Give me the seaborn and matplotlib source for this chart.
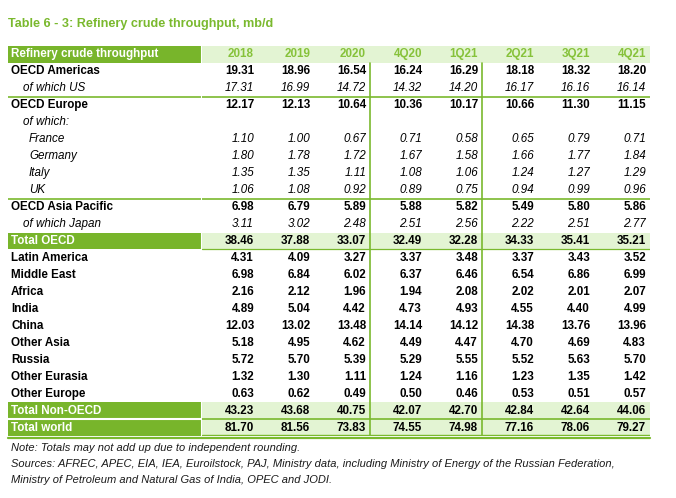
import numpy as np
import pandas as pd
import seaborn as sns
import matplotlib.pyplot as plt
from matplotlib.colors import ListedColormap

# Table contents
title = "Table 6 - 3: Refinery crude throughput, mb/d"
header_label = "Refinery crude throughput"
periods = ["2018", "2019", "2020", "4Q20", "1Q21", "2Q21", "3Q21", "4Q21"]

row_labels = ["OECD Americas", "of which US", "OECD Europe", "of which:", "France", "Germany",
              "Italy", "UK", "OECD Asia Pacific", "of which Japan", "Total OECD",
              "Latin America", "Middle East", "Africa", "India", "China", "Other Asia",
              "Russia", "Other Eurasia", "Other Europe", "Total Non-OECD", "Total world"]
row_kinds = ["bold", "sub", "bold", "sub", "country", "country", "country", "country",
             "bold", "sub", "total", "bold", "bold", "bold", "bold", "bold", "bold",
             "bold", "bold", "bold", "total", "total"]

v2018 = [19.31, 17.31, 12.17, None, 1.10, 1.80, 1.35, 1.06, 6.98, 3.11, 38.46,
         4.31, 6.98, 2.16, 4.89, 12.03, 5.18, 5.72, 1.32, 0.63, 43.23, 81.70]
v2019 = [18.96, 16.99, 12.13, None, 1.00, 1.78, 1.35, 1.08, 6.79, 3.02, 37.88,
         4.09, 6.84, 2.12, 5.04, 13.02, 4.95, 5.70, 1.30, 0.62, 43.68, 81.56]
v2020 = [16.54, 14.72, 10.64, None, 0.67, 1.72, 1.11, 0.92, 5.89, 2.48, 33.07,
         3.27, 6.02, 1.96, 4.42, 13.48, 4.62, 5.39, 1.11, 0.49, 40.75, 73.83]
v4q20 = [16.24, 14.32, 10.36, None, 0.71, 1.67, 1.08, 0.89, 5.88, 2.51, 32.49,
         3.37, 6.37, 1.94, 4.73, 14.14, 4.49, 5.29, 1.24, 0.50, 42.07, 74.55]
v1q21 = [16.29, 14.20, 10.17, None, 0.58, 1.58, 1.06, 0.75, 5.82, 2.56, 32.28,
         3.48, 6.46, 2.08, 4.93, 14.12, 4.47, 5.55, 1.16, 0.46, 42.70, 74.98]
v2q21 = [18.18, 16.17, 10.66, None, 0.65, 1.66, 1.24, 0.94, 5.49, 2.22, 34.33,
         3.37, 6.54, 2.02, 4.55, 14.38, 4.70, 5.52, 1.23, 0.53, 42.84, 77.16]
v3q21 = [18.32, 16.16, 11.30, None, 0.79, 1.77, 1.27, 0.99, 5.80, 2.51, 35.41,
         3.43, 6.86, 2.01, 4.40, 13.76, 4.69, 5.63, 1.35, 0.51, 42.64, 78.06]
v4q21 = [18.20, 16.14, 11.15, None, 0.71, 1.84, 1.29, 0.96, 5.86, 2.77, 35.21,
         3.52, 6.99, 2.07, 4.99, 13.96, 4.83, 5.70, 1.42, 0.57, 44.06, 79.27]

notes = ["Note: Totals may not add up due to independent rounding.",
         "Sources: AFREC, APEC, EIA, IEA, Euroilstock, PAJ, Ministry data, including Ministry of Energy of the Russian Federation,",
         "Ministry of Petroleum and Natural Gas of India, OPEC and JODI."]

values = pd.DataFrame({p: v for p, v in zip(periods, [v2018, v2019, v2020, v4q20, v1q21,
                                                      v2q21, v3q21, v4q21])},
                      index=row_labels)

DARK = "#78b52b"
LIGHT = "#e3f4d3"
LINE = "#7ab92e"
HEAD = "#86c23a"

sns.set_theme(style="white")
plt.rcParams["font.family"] = ["Liberation Sans", "DejaVu Sans"]

W, H = 676, 498
fig = plt.figure(figsize=(W / 100, H / 100), dpi=100)

top_px, bot_px = 46, 436
left_px, split_px, right_px = 8, 202, 650
ax_lab = fig.add_axes([left_px / W, 1 - bot_px / H, (split_px - left_px) / W, (bot_px - top_px) / H])
ax_dat = fig.add_axes([split_px / W, 1 - bot_px / H, (right_px - split_px) / W, (bot_px - top_px) / H])

# cell shading codes: 0 white, 1 light green, 2 dark green
is_total = np.array([k == "total" for k in row_kinds])
lab_codes = np.r_[2, np.where(is_total, 2, 0)].reshape(-1, 1)
dat_codes = np.repeat(np.r_[1, np.where(is_total, 1, 0)].reshape(-1, 1), len(periods), axis=1)

cmap = ListedColormap(["white", LIGHT, DARK])
sns.heatmap(lab_codes, ax=ax_lab, cmap=cmap, vmin=-0.5, vmax=2.5, cbar=False,
            xticklabels=False, yticklabels=False)
sns.heatmap(dat_codes, ax=ax_dat, cmap=cmap, vmin=-0.5, vmax=2.5, cbar=False,
            xticklabels=False, yticklabels=False)

FS = 8.4
# header
ax_lab.text(0.016, 0.5, header_label, color="white", fontsize=FS, fontweight="bold", va="center")
for j, p in enumerate(periods):
    ax_dat.text(j + 0.93, 0.5, p, color=HEAD, fontsize=FS, fontweight="bold", va="center", ha="right")

for i, (lab, kind) in enumerate(zip(row_labels, row_kinds)):
    y = i + 1.5
    if kind == "bold":
        ax_lab.text(0.016, y, lab, fontsize=FS, fontweight="bold", va="center", color="black")
    elif kind == "total":
        ax_lab.text(0.016, y, lab, fontsize=FS, fontweight="bold", va="center", color="white")
    elif kind == "sub":
        ax_lab.text(0.077, y, lab, fontsize=FS, style="italic", va="center", color="black")
    else:
        ax_lab.text(0.108, y, lab, fontsize=FS, style="italic", va="center", color="black")
    for j, p in enumerate(periods):
        v = values.loc[lab, p]
        if v is None or pd.isna(v):
            continue
        italic = kind in ("sub", "country")
        ax_dat.text(j + 0.93, y, f"{v:.2f}", fontsize=FS, va="center", ha="right", color="black",
                    fontweight="normal" if italic else "bold",
                    style="italic" if italic else "normal")

# green rules
for ax in (ax_lab, ax_dat):
    ax.axhline(3, color=LINE, lw=1.2)
    ax.axhline(9, color=LINE, lw=1.2)
ax_lab.axhline(22, color="white", lw=1.5)
ax_dat.axhline(12, color=LINE, lw=0.9)
ax_dat.axhline(22, color=LINE, lw=1.2)
ax_dat.axhline(22.97, color=LINE, lw=1.0)
for ax in (ax_lab, ax_dat):
    ax.plot([0, ax.get_xlim()[1]], [23.12, 23.12], color=LINE, lw=1.6, clip_on=False)
for xv in (3, 5):
    ax_dat.plot([xv, xv], [1, 23], color=LINE, lw=1.2)
ax_lab.axvline(1, color="white", lw=1.5)

for ax in (ax_lab, ax_dat):
    for s in ax.spines.values():
        s.set_visible(False)

fig.text(8 / W, 1 - 24 / H, title, color=LINE, fontsize=9.1, fontweight="bold", va="center")
for line, yp in zip(notes, [448, 464, 480]):
    fig.text(11 / W, 1 - yp / H, line, fontsize=8.0, style="italic", va="center", color="#1a1a1a")

fig.savefig("out.png", dpi=100)
